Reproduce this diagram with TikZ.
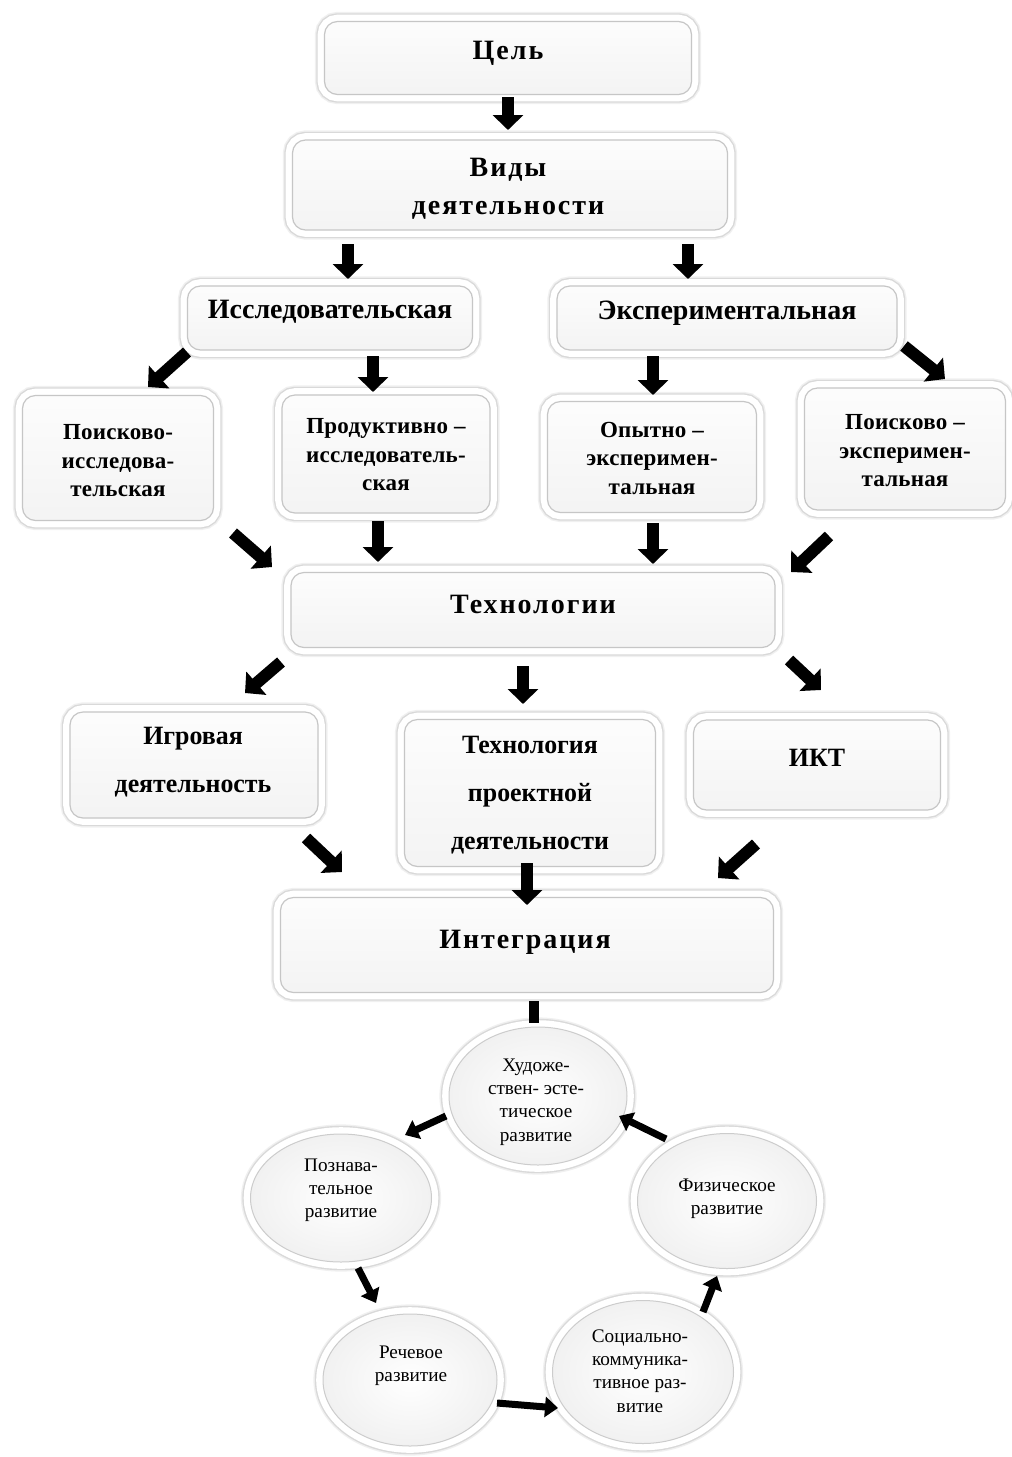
\documentclass[tikz,border=0pt]{standalone}
\usepackage{fontspec}
\setmainfont{Liberation Serif}
\newfontfamily\wideserif{Liberation Serif}[LetterSpace=7]
\newfontfamily\midserif{Liberation Serif}[LetterSpace=1]
\newfontfamily\plainserif{Liberation Serif}
\usetikzlibrary{arrows.meta,shapes.geometric}
\def\u{0.5pt}
\tikzset{
  frame/.style={preaction={draw=gray!12, line width=9.6pt}, preaction={draw=gray!30, line width=8.2pt}, preaction={draw=white, line width=6.8pt}},
  box/.style={rectangle, rounded corners=6.5pt, draw=gray!45, line width=0.6pt, top color=gray!2, bottom color=gray!9, inner sep=0pt, frame},
  ball/.style={ellipse, draw=gray!40, line width=0.5pt, inner color=white, outer color=gray!11, inner sep=0pt, frame},
  tA/.style={font=\wideserif\bfseries\fontsize{14}{19}\selectfont, align=center, inner sep=0pt},
  tP/.style={font=\plainserif\bfseries\fontsize{14}{19}\selectfont, align=center, inner sep=0pt},
  tS/.style={font=\midserif\bfseries\fontsize{11.5}{14.25}\selectfont, align=center, inner sep=0pt},
  tM/.style={font=\plainserif\bfseries\fontsize{13.2}{24}\selectfont, align=center, inner sep=0pt, xscale=0.98},
  tC/.style={font=\fontsize{9.6}{11.6}\selectfont, align=center, inner sep=0pt},
  bigarrow/.style={line width=6pt, -{Triangle[width=15pt,length=7.5pt]}},
  smallarrow/.style={line width=3.5pt, -{Triangle[width=10pt,length=6.5pt]}},
  bar/.style={line width=5pt}
}
\begin{document}
\begin{tikzpicture}[x=0.5pt,y=-0.5pt]
\path[use as bounding box, fill=white] (0,0) rectangle (1012,1457);

% boxes
\node[box, minimum width=367*\u, minimum height=73*\u] (cel) at (508,58) {};
\node[tA] (celt) at (508,53) {Цель};
\node[box, minimum width=435*\u, minimum height=90*\u] (vid) at (510,185) {};
\node[tA] (vidt) at (508,189) {Виды\\деятельности};
\node[box, minimum width=285*\u, minimum height=64*\u] (isl) at (330,318) {};
\node[tP] (islt) at (330,312) {Исследовательская};
\node[box, minimum width=340*\u, minimum height=64*\u] (eks) at (727,318) {};
\node[tP] (ekst) at (727,313) {Экспериментальная};
\node[box, minimum width=191*\u, minimum height=125*\u] (pi) at (118,458) {};
\node[tS] (pit) at (118,461) {Поисково-\\исследова-\\тельская};
\node[box, minimum width=208*\u, minimum height=118*\u] (pr) at (386,454) {};
\node[tS] (prt) at (386,455) {Продуктивно –\\исследователь-\\ская};
\node[box, minimum width=209*\u, minimum height=111*\u] (op) at (652,457) {};
\node[tS] (opt) at (652,458) {Опытно –\\эксперимен-\\тальная};
\node[box, minimum width=201*\u, minimum height=122*\u] (pe) at (905,449) {};
\node[tS] (pet) at (905,451) {Поисково –\\эксперимен-\\тальная};
\node[box, minimum width=484*\u, minimum height=75*\u] (teh) at (533,610) {};
\node[tA] (teht) at (533,604) {Технологии};
\node[box, minimum width=248*\u, minimum height=106*\u] (igr) at (194,765) {};
\node[tM] (igrt) at (193,762) {Игровая\\деятельность};
\node[box, minimum width=251*\u, minimum height=147*\u] (proj) at (530,793) {};
\node[tM] (projt) at (530,795) {Технология\\проектной\\деятельности};
\node[box, minimum width=247*\u, minimum height=90*\u] (ikt) at (817,765) {};
\node[tM] (iktt) at (817,758) {ИКТ};
\node[box, minimum width=493*\u, minimum height=95*\u] (int) at (527,945) {};
\node[tA] (intt) at (525,942) {Интеграция};

% circles
\node[ball, minimum width=178*\u, minimum height=138*\u] (hud) at (538,1096) {};
\node[tC] (hudt) at (536,1102) {Художе-\\ствен- эсте-\\тическое\\развитие};
\node[ball, minimum width=181*\u, minimum height=128*\u] (poz) at (341,1198) {};
\node[tC] (pozt) at (341,1190) {Познава-\\тельное\\развитие};
\node[ball, minimum width=179*\u, minimum height=135*\u] (fiz) at (727,1201) {};
\node[tC] (fizt) at (727,1199) {Физическое\\развитие};
\node[ball, minimum width=174*\u, minimum height=132*\u] (rech) at (410,1380) {};
\node[tC] (recht) at (411,1366) {Речевое\\развитие};
\node[ball, minimum width=181*\u, minimum height=143*\u] (soc) at (643,1372) {};
\node[tC] (soct) at (640,1371) {Социально-\\коммуника-\\тивное раз-\\витие};

% arrow end points
\coordinate (a1s) at (508,97);  \coordinate (a1e) at (508,130);
\coordinate (a2s) at (348,244); \coordinate (a2e) at (348,279);
\coordinate (a3s) at (688,244); \coordinate (a3e) at (688,279);
\coordinate (a4s) at (187,352); \coordinate (a4e) at (148,387);
\coordinate (a5s) at (373,356); \coordinate (a5e) at (373,392);
\coordinate (a6s) at (653,356); \coordinate (a6e) at (653,395);
\coordinate (a7s) at (904,346); \coordinate (a7e) at (945,379);
\coordinate (a8s) at (233,533); \coordinate (a8e) at (272,567);
\coordinate (a9s) at (378,521); \coordinate (a9e) at (378,562);
\coordinate (a10s) at (653,523); \coordinate (a10e) at (653,564);
\coordinate (a11s) at (829,536); \coordinate (a11e) at (791,572);
\coordinate (a12s) at (281,662); \coordinate (a12e) at (245,693);
\coordinate (a13s) at (523,666); \coordinate (a13e) at (523,704);
\coordinate (a14s) at (789,660); \coordinate (a14e) at (821,690);
\coordinate (a15s) at (306,838); \coordinate (a15e) at (342,872);
\coordinate (a16s) at (527,863); \coordinate (a16e) at (527,905);
\coordinate (a17s) at (756,844); \coordinate (a17e) at (718,878);
\coordinate (b1s) at (534,1001); \coordinate (b1e) at (534,1023);
\coordinate (c1s) at (446,1116); \coordinate (c1e) at (405,1135);
\coordinate (c2s) at (358,1268); \coordinate (c2e) at (376,1303);
\coordinate (c3s) at (497,1403); \coordinate (c3e) at (558,1408);
\coordinate (c4s) at (703,1312); \coordinate (c4e) at (717,1276);
\coordinate (c5s) at (666,1139); \coordinate (c5e) at (619,1116);

\foreach \i in {1,...,17} {\draw[bigarrow] (a\i s) -- (a\i e);}
\draw[bar] (b1s) -- (b1e);
\foreach \i in {1,...,5} {\draw[smallarrow] (c\i s) -- (c\i e);}
\end{tikzpicture}
\end{document}
